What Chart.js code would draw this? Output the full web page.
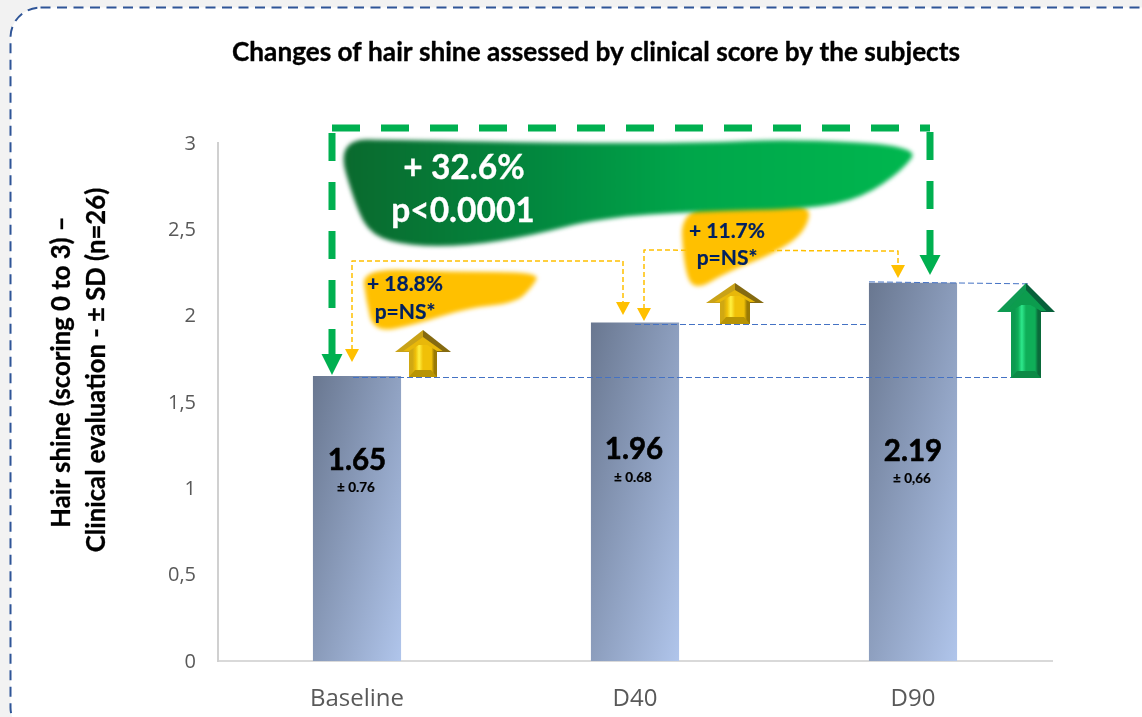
<!DOCTYPE html>
<html><head><meta charset="utf-8">
<script src="https://cdn.jsdelivr.net/npm/chart.js@4"></script>
<style>html,body{margin:0;padding:0;background:#f2f2f2}canvas{display:block}</style>
</head><body>
<canvas id="c" width="1142" height="717"></canvas>
<script>
const categories = ['Baseline', 'D40', 'D90'];
const meanScores = [1.65, 1.96, 2.19];
const meanLabels = ['1.65', '1.96', '2.19'];
const sdLabels = ['± 0.76', '± 0.68', '± 0,66'];
const yTicks = [0, 0.5, 1, 1.5, 2, 2.5, 3];
const chartTitle = 'Changes of hair shine assessed by clinical score by the subjects';
const yTitleLines = ['Hair shine (scoring 0 to 3) –', 'Clinical evaluation - ± SD (n=26)'];
const totalChange = ['+ 32.6%', 'p<0.0001'];
const stepOneChange = ['+ 18.8%', 'p=NS*'];
const stepTwoChange = ['+ 11.7%', 'p=NS*'];

const FONT = 'Lato, sans-serif';
const GREEN = '#00b050', AMBER = '#ffc000', BLUE = '#4472c4', NAVY = '#002060';

function poly(ctx, pts){ ctx.beginPath(); pts.forEach((p,i)=> i?ctx.lineTo(p[0],p[1]):ctx.moveTo(p[0],p[1])); ctx.closePath(); }
function smooth(ctx, pts){
  ctx.beginPath();
  const n = pts.length;
  const mid = (a,b)=>[(a[0]+b[0])/2,(a[1]+b[1])/2];
  let s = mid(pts[n-1],pts[0]); ctx.moveTo(s[0],s[1]);
  for(let i=0;i<n;i++){ const m = mid(pts[i],pts[(i+1)%n]); ctx.quadraticCurveTo(pts[i][0],pts[i][1],m[0],m[1]); }
  ctx.closePath();
}
function dashed(ctx, color, w, dash, segs){
  ctx.save(); ctx.strokeStyle=color; ctx.lineWidth=w; ctx.setLineDash(dash); ctx.lineCap='butt';
  ctx.beginPath(); segs.forEach((p,i)=> i?ctx.lineTo(p[0],p[1]):ctx.moveTo(p[0],p[1])); ctx.stroke(); ctx.restore();
}
function head(ctx, color, x, base, tip, w){
  ctx.fillStyle=color; poly(ctx,[[x-w/2,base],[x+w/2,base],[x,tip]]); ctx.fill();
}
function arrow3d(ctx, cx, tip, hb, hw, sw, bot, c){
  ctx.save();
  ctx.filter='blur(0.6px)';
  // head: outer faces
  ctx.fillStyle=c.headL; poly(ctx,[[cx,tip],[cx-hw,hb],[cx,hb]]); ctx.fill();
  ctx.fillStyle=c.headR; poly(ctx,[[cx,tip],[cx+hw,hb],[cx,hb]]); ctx.fill();
  // head inner face
  ctx.fillStyle=c.inner; poly(ctx,[[cx,tip+7],[cx+hw*0.7,hb-1],[cx-hw*0.7,hb-1]]); ctx.fill();
  // shaft with horizontal bevel shading
  let g = ctx.createLinearGradient(cx-sw,0,cx+sw,0);
  g.addColorStop(0,c.edgeL); g.addColorStop(.12,c.edgeL); g.addColorStop(.24,c.shaft); g.addColorStop(.36,c.light);
  g.addColorStop(.5,c.shaft); g.addColorStop(.8,c.shaft); g.addColorStop(.9,c.edgeR); g.addColorStop(1,c.edgeR);
  ctx.fillStyle=g; poly(ctx,[[cx-sw,hb-1],[cx-sw*0.3,hb-7],[cx+sw*0.3,hb-7],[cx+sw,hb-1],[cx+sw,bot],[cx-sw,bot]]); ctx.fill();
  // bottom bevel
  ctx.fillStyle=c.bot; poly(ctx,[[cx-sw,bot],[cx+sw,bot],[cx+sw-6,bot-7],[cx-sw+6,bot-7]]); ctx.fill();
  ctx.restore();
}
const GOLD3D = {headL:'#c9a218',headR:'#856a10',inner:'#e8b80a',edgeL:'#d0a812',edgeR:'#9a7a04',shaft:'#f0c008',light:'#fff040',bot:'#b89404'};
const GREEN3D = {headL:'#0f9a52',headR:'#07603a',inner:'#0c9c4e',edgeL:'#0d9a50',edgeR:'#0a6a3a',shaft:'#0fae58',light:'#2ee88c',bot:'#0c8a46'};

function centered(ctx, text, x, y, font, color, heavy){
  ctx.font=font; ctx.fillStyle=color; ctx.textAlign='center'; ctx.textBaseline='middle'; ctx.fillText(text,x,y);
  if(heavy){ ctx.strokeStyle=color; ctx.lineWidth=heavy; ctx.setLineDash([]); ctx.lineJoin='round'; ctx.strokeText(text,x,y); }
}

const panelPlugin = {
  id:'panel',
  beforeDraw(chart){
    const ctx=chart.ctx;
    ctx.save();
    ctx.fillStyle='#f2f2f2'; ctx.fillRect(0,0,1142,717);
    ctx.beginPath(); ctx.roundRect(10.5,7.5,1200,730,30);
    ctx.fillStyle='#ffffff'; ctx.fill();
    ctx.strokeStyle='#2f5597'; ctx.lineWidth=2; ctx.setLineDash([10,6.5]); ctx.stroke();
    ctx.restore();
  }
};

const overlayPlugin = {
  id:'overlay',
  afterDatasetsDraw(chart){
    const ctx=chart.ctx, xs=chart.scales.x, ys=chart.scales.y;
    const X=i=>xs.getPixelForValue(i), Y=v=>ys.getPixelForValue(v);
    ctx.save();

    centered(ctx, chartTitle, 596, 53, '700 26.2px '+FONT, '#000', 0.35);
    [[62,yTitleLines[0],372],[97,yTitleLines[1],370]].forEach(([x,t,y])=>{
      ctx.save(); ctx.translate(x,y); ctx.rotate(-Math.PI/2);
      centered(ctx,t,0,0,'700 25.7px '+FONT,'#000',0.3); ctx.restore();
    });

    const base=Math.round(Y(meanScores[0]))+1.5, mid=Math.round(Y(meanScores[1]))+1.5, top=Y(meanScores[2]);
    dashed(ctx,BLUE,1,[6,3],[[X(0)-4,base],[1040,base]]);
    dashed(ctx,BLUE,1,[6,3],[[X(1),mid],[X(2)-44,mid]]);
    dashed(ctx,BLUE,1,[6,3],[[X(2)-44,top-1],[1028,top+1]]);

    ctx.save(); ctx.filter='blur(2px)'; ctx.fillStyle=AMBER;
    smooth(ctx,[[362,268],[450,272],[540,272],[533,286],[516,303],[467,308],[417,324],[374,333],[366,300]]); ctx.fill();
    smooth(ctx,[[680,200],[812,200],[806,232],[773,254],[727,272],[695,291],[684,270]]); ctx.fill();
    ctx.restore();

    ctx.save(); ctx.filter='blur(2px)';
    let g=ctx.createLinearGradient(345,0,915,0);
    g.addColorStop(0,'#0a6a2e'); g.addColorStop(.35,'#02893f'); g.addColorStop(.6,'#00a64a'); g.addColorStop(1,'#00b74f');
    ctx.fillStyle=g;
    smooth(ctx,[[336,139],[400,140],[560,143],[700,143],[793,139],[920,146],[903,170],[862,198],[810,209],[700,211],[600,218],[530,236],[467,246],[410,246],[372,236],[356,208]]); ctx.fill();
    ctx.restore();

    dashed(ctx,GREEN,7,[28,21],[[332,128],[930,128]]);
    dashed(ctx,GREEN,7,[28,21],[[332,133],[332,354]]);
    dashed(ctx,GREEN,7,[28,21],[[930,132],[930,256]]);
    head(ctx,GREEN,332,354,375,21);
    head(ctx,GREEN,930,255,275,21);

    dashed(ctx,AMBER,1.5,[5,3],[[352,350],[352,261],[623,261],[623,303]]);
    head(ctx,AMBER,352,349,362,14);
    head(ctx,AMBER,623,302,315,14);
    dashed(ctx,AMBER,1.5,[5,3],[[644,309],[644,250],[898,251],[898,266]]);
    head(ctx,AMBER,644,308,321,14);
    head(ctx,AMBER,898,265,278,14);

    arrow3d(ctx,423,330,352,28,14,377,GOLD3D);
    arrow3d(ctx,735,283,303,29,15,324,GOLD3D);
    arrow3d(ctx,1026,283,312,29,15,378,GREEN3D);

    centered(ctx,totalChange[0],464,168,'700 33.5px '+FONT,'#fff',0.3);
    centered(ctx,totalChange[1],463,211,'700 33.5px '+FONT,'#fff',0.3);
    centered(ctx,stepOneChange[0],405,284,'700 21px '+FONT,NAVY,0.2);
    centered(ctx,stepOneChange[1],405,312,'700 21px '+FONT,NAVY,0.2);
    centered(ctx,stepTwoChange[0],727,231,'700 21px '+FONT,NAVY,0.2);
    centered(ctx,stepTwoChange[1],727,258,'700 21px '+FONT,NAVY,0.2);

    const meanY=[460,449,451], sdY=[488,478,479], offs=[0,-1,0];
    meanLabels.forEach((t,i)=>{
      centered(ctx,t,X(i)+offs[i],meanY[i],'700 29.5px '+FONT,'#000',0.6);
      centered(ctx,sdLabels[i],X(i)+offs[i]-1,sdY[i],'700 13.5px '+FONT,'#000',0.2);
    });
    ctx.restore();
  }
};

function barFill(c){
  const chart=c.chart, xs=chart.scales.x, ys=chart.scales.y;
  if(!xs||!ys||c.dataIndex===undefined) return '#8a9dbf';
  const x=xs.getPixelForValue(c.dataIndex)-44, y=ys.getPixelForValue(meanScores[c.dataIndex]);
  if(!isFinite(x)||!isFinite(y)) return '#8a9dbf';
  const h=ys.bottom-y;
  const k=(88*3.96+h)/16.7;
  const g=chart.ctx.createLinearGradient(x,y,x+3.96*k,y+k);
  g.addColorStop(0,'#697790'); g.addColorStop(1,'#b0c5eb');
  return g;
}

new Chart(document.getElementById('c'),{
  type:'bar',
  data:{labels:categories,datasets:[{data:meanScores,backgroundColor:barFill,borderWidth:0,
    categoryPercentage:1,barPercentage:0.317}]},
  plugins:[panelPlugin,overlayPlugin],
  options:{
    responsive:false,animation:false,
    devicePixelRatio:1,
    layout:{padding:{left:0,right:90,top:143,bottom:0}},
    plugins:{legend:{display:false},tooltip:{enabled:false},title:{display:false}},
    scales:{
      x:{grid:{display:false,drawTicks:false},border:{display:true,color:'#d9d9d9',width:2},
        ticks:{color:'#595959',font:{family:'"Open Sans"',size:24},padding:24,maxRotation:0},
        afterFit(s){s.height=56;}},
      y:{min:0,max:3,grid:{display:false,drawTicks:false},border:{display:true,color:'#d0d0d0',width:2},
        afterBuildTicks(s){s.ticks=yTicks.map(v=>({value:v}));},
        ticks:{color:'#595959',font:{family:'"Open Sans"',size:20},padding:22,labelOffset:1,
          callback:v=>String(v).replace('.',',')},
        afterFit(s){s.width=218;}}
    }
  }
});
</script>
</body></html>
